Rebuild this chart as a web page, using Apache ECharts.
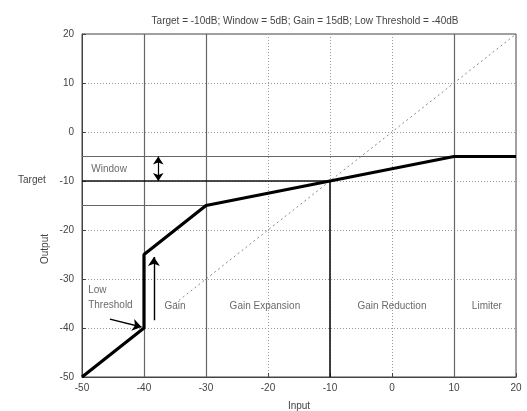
<!DOCTYPE html>
<html>
<head>
<meta charset="utf-8">
<script src="https://cdn.jsdelivr.net/npm/echarts@6/dist/echarts.min.js"></script>
<style>html,body{margin:0;padding:0;background:#fff}#c{width:527px;height:411px}</style>
</head>
<body>
<div id="c"></div>
<script>
const titleText = 'Target = -10dB; Window = 5dB; Gain = 15dB; Low Threshold = -40dB';
const axisMin = -50, axisMax = 20, axisStep = 10;
const curveX = [-50, -40, -40, -30, 10, 20];
const curveY = [-50, -40, -25, -15, -5, -5];
const diagX = [-35, 20];
const diagY = [-35, 20];
const regionNames = ['Gain', 'Gain Expansion', 'Gain Reduction', 'Limiter'];
const regionX = [-35, -20.5, 0, 15.3];
const regionY = [-35.5, -35.5, -35.5, -35.5];
// guide lines: [x1, y1, x2, y2]
const guideGray = [
  [-50, -5, 10, -5],
  [-50, -15, -30, -15],
  [-40, -50, -40, 20],
  [-30, -50, -30, 20],
  [10, -50, 10, 20]
];
const guideBlack = [
  [-50, -10, -10, -10],
  [-10, -50, -10, -10]
];
const windowArrow = [-37.7, -5, -37.7, -10];
const gainArrow = [-38.4, -38.4, -38.4, -25.5];
const thresholdArrow = [-45.5, -38.2, -40.4, -39.8];
const noteTexts = ['Window', 'Low', 'Threshold'];
const noteX = [-48.5, -49, -49];
const noteY = [-7.5, -32.3, -35.3];

const chart = echarts.init(document.getElementById('c'));
const segs = arr => arr.map(s => ({coords: [[s[0], s[1]], [s[2], s[3]]]}));
const pair = (xs, ys) => xs.map((x, i) => [x, ys[i]]);

chart.setOption({
  animation: false,
  title: {
    text: titleText, left: 300, top: 11, textAlign: 'center',
    textStyle: {fontSize: 10, fontWeight: 'normal', color: '#444', fontFamily: 'Liberation Sans'}
  },
  grid: {left: 82, right: 11, top: 34, bottom: 34, containLabel: false, outerBoundsMode: 'none',
         show: true, borderColor: '#444', borderWidth: 1},
  xAxis: {
    type: 'value', min: axisMin, max: axisMax, interval: axisStep,
    name: 'Input', nameLocation: 'middle', nameGap: 24,
    nameTextStyle: {fontSize: 10, color: '#444', fontFamily: 'Liberation Sans'},
    axisLine: {onZero: false, lineStyle: {color: '#444'}},
    axisTick: {inside: true, length: 4, lineStyle: {color: '#444'}},
    axisLabel: {fontSize: 10, color: '#444', fontFamily: 'Liberation Sans', margin: 6},
    splitLine: {lineStyle: {color: '#999', type: [1, 2]}}
  },
  yAxis: {
    type: 'value', min: axisMin, max: axisMax, interval: axisStep,
    axisLine: {onZero: false, lineStyle: {color: '#444'}},
    axisTick: {inside: true, length: 4, lineStyle: {color: '#444'}},
    axisLabel: {fontSize: 10, color: '#444', fontFamily: 'Liberation Sans', margin: 8},
    splitLine: {lineStyle: {color: '#999', type: [1, 2]}}
  },
  graphic: [{
    type: 'text', left: 18, top: 175,
    style: {text: 'Target', fontSize: 10, fill: '#444', fontFamily: 'Liberation Sans'}
  }, {
    type: 'text', x: 40, y: 264, rotation: Math.PI / 2,
    style: {text: 'Output', fontSize: 10, fill: '#444', fontFamily: 'Liberation Sans'}
  }],
  series: [
    {type: 'lines', coordinateSystem: 'cartesian2d', silent: true, z: 2,
     lineStyle: {color: '#666', width: 1.2, opacity: 1}, data: segs(guideGray)},
    {type: 'lines', coordinateSystem: 'cartesian2d', silent: true, z: 3,
     lineStyle: {color: '#111', width: 1.6, opacity: 1}, data: segs(guideBlack)},
    {type: 'line', data: pair(diagX, diagY), symbol: 'none', z: 2,
     lineStyle: {color: '#888', width: 1, type: [2, 3]}},
    {type: 'line', data: pair(curveX, curveY), symbol: 'none', z: 5,
     lineStyle: {color: '#000', width: 3.2}},
    {type: 'lines', coordinateSystem: 'cartesian2d', silent: true, z: 4,
     symbol: ['arrow', 'arrow'], symbolSize: 8,
     lineStyle: {color: '#000', width: 1.2, opacity: 1}, data: segs([windowArrow])},
    {type: 'lines', coordinateSystem: 'cartesian2d', silent: true, z: 4,
     symbol: ['none', 'arrow'], symbolSize: 9,
     lineStyle: {color: '#000', width: 1.4, opacity: 1}, data: segs([gainArrow, thresholdArrow])},
    {type: 'scatter', symbolSize: 0, z: 6, silent: true,
     data: regionNames.map((n, i) => ({name: n, value: [regionX[i], regionY[i]]})),
     label: {show: true, formatter: '{b}', position: 'inside', fontSize: 10, color: '#444', fontFamily: 'Liberation Sans'}},
    {type: 'scatter', symbolSize: 0, z: 6, silent: true,
     data: noteTexts.map((n, i) => ({name: n, value: [noteX[i], noteY[i]]})),
     label: {show: true, formatter: '{b}', position: 'right', distance: 0, fontSize: 10, color: '#444', fontFamily: 'Liberation Sans'}}
  ]
});
</script>
</body>
</html>
